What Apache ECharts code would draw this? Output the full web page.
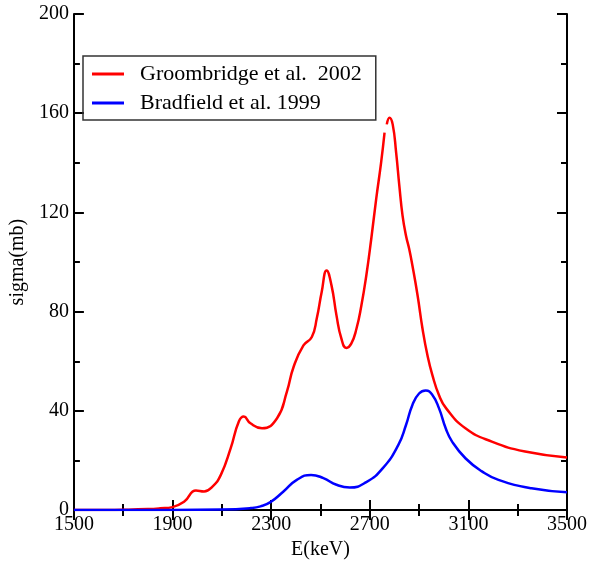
<!DOCTYPE html>
<html>
<head>
<meta charset="utf-8">
<script src="https://cdn.jsdelivr.net/npm/echarts@6/dist/echarts.min.js"></script>
<style>
  html, body { margin: 0; padding: 0; background: #fff; }
  #chart { width: 590px; height: 565px; }
</style>
</head>
<body>
<div id="chart"></div>
<script>
// Cross section sigma (mb) versus energy E (keV)
const seriesNames = ['Groombridge et al.  2002', 'Bradfield et al. 1999'];

const groomE = [1500, 1600, 1700, 1800, 1850, 1900, 1948, 1995, 2028, 2062, 2096, 2136, 2169, 2189,
  2216, 2263, 2324, 2364, 2391, 2431, 2465, 2485, 2505, 2525, 2545, 2565, 2585, 2605, 2625,
  2646, 2666, 2686, 2706, 2726, 2746, 2760,
  2764, 2769, 2780, 2793, 2807, 2820, 2833, 2847, 2860, 2873, 2894, 2914, 2934, 2954, 2981,
  3010, 3088, 3195, 3330, 3500];
const groomV = [0, 0.05, 0.15, 0.4, 0.7, 1.2, 3.5, 7.9, 7.5, 9.5, 14.2, 25, 35.7, 37.7,
  35, 33, 37, 47.8, 57.7, 66.4, 69.8, 77.2, 87.9, 96.6, 90.5, 78.5, 69.1, 65.4, 67.1,
  73.1, 82.5, 94.6, 109.3, 125.4, 140.1, 152.2,
  null, 155.5, 158.2, 155.5, 144.1, 130.7, 118.7, 110.6, 105.3, 98.6, 86.5, 73.1, 62.4, 54.4, 46.3,
  41, 33, 27.6, 23.6, 21.2];

const bradE = [1500, 1700, 1900, 2100, 2216, 2257, 2297, 2350, 2404, 2462, 2512, 2565, 2619, 2686,
  2753, 2816, 2847, 2873, 2900, 2927, 2954, 2981, 3008, 3034, 3088, 3155, 3222, 3356, 3500];
const bradV = [0, 0, 0, 0.2, 0.8, 1.5, 3.2, 7.5, 12.2, 14.2, 12.9, 10.2, 9.1, 11.3,
  16.9, 26.3, 34.3, 42.4, 47, 48.2, 46.4, 41, 33, 27.6, 20.9, 15.6, 12.2, 8.8, 7.2];

const xTicks = [1500, 1900, 2300, 2700, 3100, 3500];
const yTicks = [0, 40, 80, 120, 160, 200];

const pairs = (xs, ys) => xs.map((x, i) => [x, ys[i]]);

const serif = '"Liberation Serif", "DejaVu Serif", serif';

const frameAxis = {
  axisLine: { show: true, lineStyle: { color: '#000', width: 2 } },
  axisTick: { show: true, inside: true, length: 10, lineStyle: { color: '#000', width: 2 } },
  minorTick: { show: true, splitNumber: 2, length: 6, lineStyle: { color: '#000', width: 2 } },
  splitLine: { show: false },
  minorSplitLine: { show: false }
};

const plain = v => String(v);

const chart = echarts.init(document.getElementById('chart'));
chart.setOption({
  backgroundColor: '#fff',
  animation: false,
  grid: { left: 72, right: 21, top: 14, bottom: 53 },
  legend: {
    orient: 'vertical',
    left: 83,
    top: 56,
    padding: [6, 14, 5, 9],
    itemGap: 5,
    itemWidth: 32,
    itemHeight: 3,
    icon: 'rect',
    borderColor: '#333',
    borderWidth: 1.5,
    textStyle: { fontFamily: serif, fontSize: 22, lineHeight: 24, color: '#000', padding: [0, 0, 0, 11] },
    data: seriesNames
  },
  xAxis: [
    Object.assign({
      type: 'value', min: xTicks[0], max: xTicks[xTicks.length - 1], interval: 400,
      position: 'bottom',
      name: 'E(keV)', nameLocation: 'middle', nameGap: 27,
      nameTextStyle: { fontFamily: serif, fontSize: 20, color: '#000' },
      axisLabel: { fontFamily: serif, fontSize: 20, color: '#000', margin: 5, formatter: plain }
    }, frameAxis),
    Object.assign({
      type: 'value', min: xTicks[0], max: xTicks[xTicks.length - 1], interval: 400,
      position: 'top', axisLabel: { show: false }
    }, frameAxis)
  ],
  yAxis: [
    Object.assign({
      type: 'value', min: yTicks[0], max: yTicks[yTicks.length - 1], interval: 40,
      position: 'left',
      name: 'sigma(mb)', nameLocation: 'middle', nameGap: 44,
      nameTextStyle: { fontFamily: serif, fontSize: 20, color: '#000' },
      axisLabel: { fontFamily: serif, fontSize: 20, color: '#000', margin: 5, formatter: plain }
    }, frameAxis),
    Object.assign({
      type: 'value', min: yTicks[0], max: yTicks[yTicks.length - 1], interval: 40,
      position: 'right', axisLabel: { show: false }
    }, frameAxis)
  ],
  series: [
    {
      name: seriesNames[0], type: 'line', smooth: 0.5, symbol: 'none', connectNulls: false,
      lineStyle: { color: '#ff0000', width: 2.5 }, itemStyle: { color: '#ff0000' },
      data: pairs(groomE, groomV)
    },
    {
      name: seriesNames[1], type: 'line', smooth: 0.5, symbol: 'none',
      lineStyle: { color: '#0000ff', width: 2.5 }, itemStyle: { color: '#0000ff' },
      data: pairs(bradE, bradV)
    }
  ]
});
</script>
</body>
</html>
